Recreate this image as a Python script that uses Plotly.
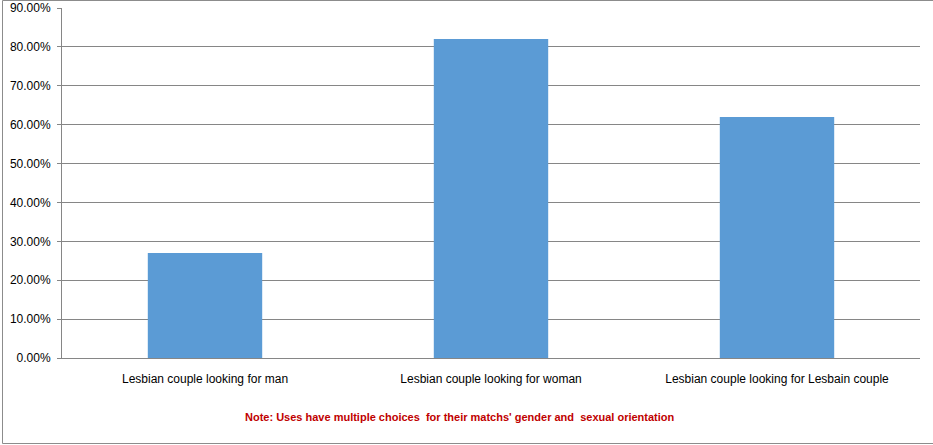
import plotly.graph_objects as go

# categories and values (share of users, as fraction)
categories = [
    "Lesbian couple looking for man",
    "Lesbian couple looking for woman",
    "Lesbian couple looking for Lesbain couple",
]
shares = [0.27, 0.82, 0.62]
y_ticks = [i / 10 for i in range(10)]

note = "Note: Uses have multiple choices  for their matchs' gender and  sexual orientation"

W, H = 933, 445
L, R, T, B = 62, 13, 8, 87
pw, ph = W - L - R, H - T - B

fig = go.Figure()
fig.add_trace(go.Bar(
    x=categories,
    y=shares,
    marker=dict(color="#5B9BD5", line=dict(width=0)),
    hoverinfo="x+y",
))

fig.update_layout(
    width=W,
    height=H,
    margin=dict(l=L, r=R, t=T, b=B),
    paper_bgcolor="white",
    plot_bgcolor="white",
    bargap=0.6,
    showlegend=False,
    font=dict(family="Liberation Sans, Arial, sans-serif", size=11, color="#000000"),
    xaxis=dict(
        automargin=False,
        showgrid=False,
        showline=True,
        linecolor="#868686",
        linewidth=1,
        ticks="",
        ticklabelstandoff=10,
        tickfont=dict(size=12, color="#000000"),
    ),
    yaxis=dict(
        automargin=False,
        range=[0, 0.9],
        tickvals=y_ticks + [0.9],
        tickformat=".2%",
        showgrid=True,
        gridcolor="#868686",
        gridwidth=1,
        showline=True,
        linecolor="#868686",
        linewidth=1,
        ticks="outside",
        ticklen=4,
        tickcolor="#868686",
        ticklabelstandoff=4,
        zeroline=False,
        tickfont=dict(size=12, color="#000000"),
    ),
)

# note under the chart
fig.add_annotation(
    text="<b>" + note + "</b>",
    xref="paper", yref="paper",
    x=(460 - L) / pw, y=(T + ph - 417) / ph,
    xanchor="center", yanchor="middle",
    showarrow=False,
    font=dict(size=11, color="#C00000"),
)

# chart area border (right edge falls outside the window)
fig.add_shape(
    type="rect",
    xref="paper", yref="paper",
    x0=(2.5 - L) / pw, x1=(945 - L) / pw,
    y0=(T + ph - 443.5) / ph, y1=(T + ph - 0.5) / ph,
    line=dict(color="#8C8C8C", width=1),
    layer="below",
)

# page has a default body margin; drop it so the figure fills the window
fig.write_html("out.html", config={"displayModeBar": False},
               post_script="document.body.style.margin='0';")
